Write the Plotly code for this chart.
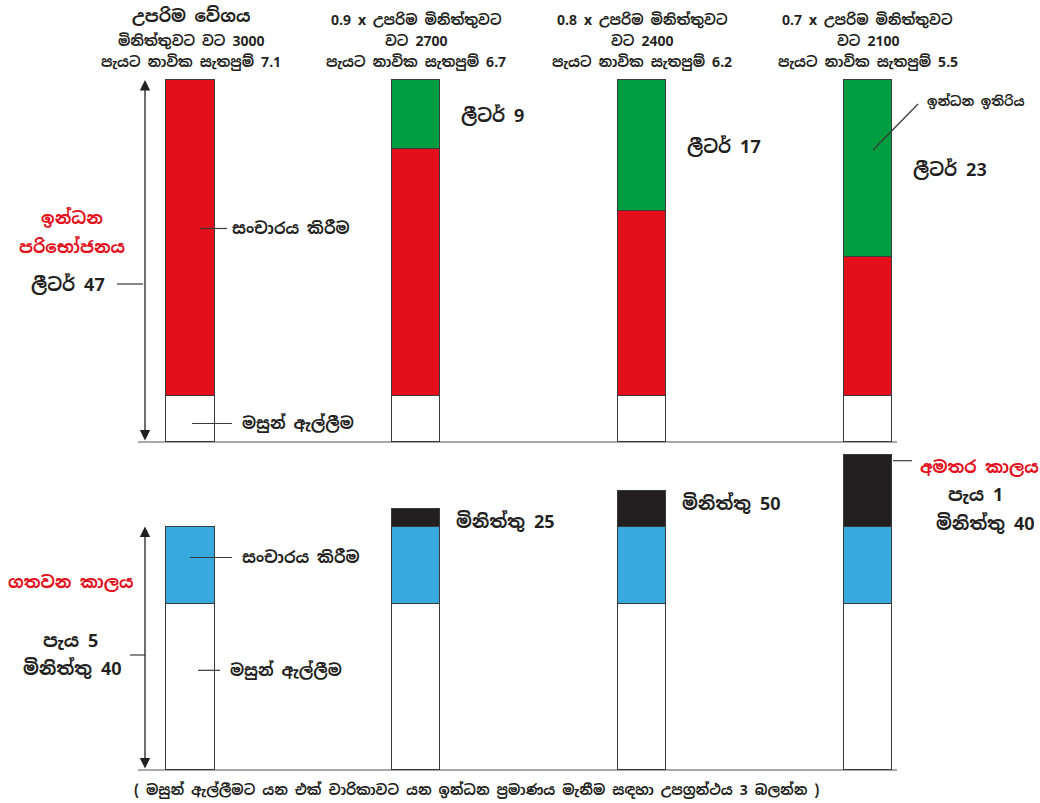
import plotly.graph_objects as go

W, H = 1040, 803

# ---- data -------------------------------------------------------------
speed_factor = ["", "0.9", "0.8", "0.7"]
engine_rpm = [3000, 2700, 2400, 2100]
speed_knots = [7.1, 6.7, 6.2, 5.5]

# fuel use (litres)
fuel_fishing = [6, 6, 6, 6]
fuel_travel = [41, 32, 24, 18]
fuel_remaining = [0, 9, 17, 23]

# time taken (minutes)
time_fishing = [232, 232, 232, 232]
time_travel = [108, 108, 108, 108]
time_extra = [0, 25, 50, 100]

x_pos = [0, 1, 2, 3]

# ---- styling ----------------------------------------------------------
RED = "#E30F1B"
GREEN = "#009E40"
BLUE = "#38A9DF"
BLACK = "#231F20"
EDGE = "#3A3A3A"
TEXT = "#231F20"
FONT = "Noto Sans Sinhala, Noto Sans, DejaVu Sans, sans-serif"
BAR_W = 0.213

# pixel layout of the two panels
X0_PX, X_STEP_PX = 190.5, 225.8          # centre of first bar, spacing
SPLIT_PX = 448                           # border between panels
TOP_BASE_PX, TOP_PX_PER_L = 442, 7.70
BOT_BASE_PX, BOT_PX_PER_MIN = 770, 0.716


def px_x(px):
    return px / W


def px_y(py):
    return 1 - py / H


def x_data(px):
    return (px - X0_PX) / X_STEP_PX


x_range = [x_data(0), x_data(W)]
top_range = [(TOP_BASE_PX - SPLIT_PX) / TOP_PX_PER_L, TOP_BASE_PX / TOP_PX_PER_L]
bot_range = [(BOT_BASE_PX - H) / BOT_PX_PER_MIN, (BOT_BASE_PX - SPLIT_PX) / BOT_PX_PER_MIN]

fig = go.Figure()


def add_bar(y, color, axes):
    xa, ya = axes
    fig.add_trace(go.Bar(
        x=x_pos, y=y, width=BAR_W, xaxis=xa, yaxis=ya,
        marker=dict(color=color, line=dict(color=EDGE, width=1.5)),
        showlegend=False, hoverinfo="skip",
    ))


add_bar(fuel_fishing, "white", ("x", "y"))
add_bar(fuel_travel, RED, ("x", "y"))
add_bar(fuel_remaining, GREEN, ("x", "y"))

add_bar(time_fishing, "white", ("x2", "y2"))
add_bar(time_travel, BLUE, ("x2", "y2"))
add_bar(time_extra, BLACK, ("x2", "y2"))

annotations = []
shapes = []


def text(x, y, s, size=15, color=TEXT, xanchor="center", yanchor="middle",
         yref="paper", yshift=0, bold=True):
    annotations.append(dict(
        x=x, y=y, xref="paper", yref=yref, text=f"<b>{s}</b>" if bold else s,
        showarrow=False, xanchor=xanchor, yanchor=yanchor, yshift=yshift,
        font=dict(family=FONT, size=size, color=color), align="center",
    ))


def leader(x0px, y0, x1px, y1, yref="paper", color=EDGE):
    shapes.append(dict(type="line", xref="paper", yref=yref,
                       x0=px_x(x0px), x1=px_x(x1px), y0=y0, y1=y1,
                       line=dict(color=color, width=1.2)))


# ---- headings above each bar ------------------------------------------
for i in range(4):
    cx = px_x(X0_PX + X_STEP_PX * i)
    if speed_factor[i]:
        text(cx, px_y(20), f"{speed_factor[i]} x උපරිම මිනිත්තුවට", size=14)
        text(cx, px_y(41), f"වට {engine_rpm[i]}", size=14)
    else:
        text(cx, px_y(16), "උපරිම වේගය", size=17)
        text(cx, px_y(41), f"මිනිත්තුවට වට {engine_rpm[i]}", size=14)
    text(cx, px_y(62), f"පැයට නාවික සැතපුම් {speed_knots[i]}", size=14)

# ---- top panel: fuel ---------------------------------------------------
total_fuel = fuel_fishing[0] + fuel_travel[0] + fuel_remaining[0]
arrow_x = x_data(145)
annotations.append(dict(
    x=arrow_x, y=total_fuel, ax=arrow_x, ay=0, xref="x", yref="y", axref="x", ayref="y",
    showarrow=True, arrowside="end+start", arrowhead=2, arrowsize=1.6, arrowwidth=1.3,
    arrowcolor=BLACK, text="",
))
shapes.append(dict(type="line", xref="paper", yref="y", x0=px_x(138), x1=px_x(897),
                   y0=0, y1=0, line=dict(color="#8C8C8C", width=1.5), layer="below"))

text(px_x(72), px_y(218), "ඉන්ධන", size=17, color=RED)
text(px_x(72), px_y(246), "පරිභෝජනය", size=17, color=RED)
text(px_x(68), px_y(284), f"ලීටර් {total_fuel}", size=18)
leader(117, px_y(284), 143, px_y(284))

travel_mid = fuel_fishing[0] + fuel_travel[0] * 0.53
leader(200, travel_mid, 227, travel_mid, yref="y")
text(px_x(230), travel_mid, "සංචාරය කිරීම", size=16, xanchor="left", yref="y")

fish_mid = fuel_fishing[0] * 0.4
leader(192, fish_mid, 232, fish_mid, yref="y")
text(px_x(240), fish_mid, "මසුන් ඇල්ලීම", size=16, xanchor="left", yref="y")

for i in range(1, 4):
    y_mid = fuel_fishing[i] + fuel_travel[i] + fuel_remaining[i] / 2
    lx = X0_PX + X_STEP_PX * i + 43
    text(px_x(lx), y_mid, f"ලීටර් {fuel_remaining[i]}", size=18, xanchor="left", yref="y")

leader(873, px_y(150), 918, px_y(104))
text(px_x(925), px_y(101), "ඉන්ධන ඉතිරිය", size=13, xanchor="left")

# ---- bottom panel: time ------------------------------------------------
total_time = time_fishing[0] + time_travel[0] + time_extra[0]
annotations.append(dict(
    x=arrow_x, y=total_time, ax=arrow_x, ay=0, xref="x2", yref="y2", axref="x2", ayref="y2",
    showarrow=True, arrowside="end+start", arrowhead=2, arrowsize=1.6, arrowwidth=1.3,
    arrowcolor=BLACK, text="",
))
shapes.append(dict(type="line", xref="paper", yref="y2", x0=px_x(138), x1=px_x(897),
                   y0=0, y1=0, line=dict(color="#8C8C8C", width=1.5), layer="below"))

h, m = divmod(total_time, 60)
text(px_x(70), px_y(582), "ගතවන කාලය", size=17, color=RED)
text(px_x(70), px_y(640), f"පැය {h}", size=18)
text(px_x(72), px_y(668), f"මිනිත්තු {m}", size=18)
leader(130, px_y(655), 145, px_y(655))

t_travel_mid = time_fishing[0] + time_travel[0] * 0.6
leader(190, t_travel_mid, 232, t_travel_mid, yref="y2")
text(px_x(240), t_travel_mid, "සංචාරය කිරීම", size=16, xanchor="left", yref="y2")

t_fish_mid = time_fishing[0] * 0.6
leader(198, t_fish_mid, 220, t_fish_mid, yref="y2")
text(px_x(228), t_fish_mid, "මසුන් ඇල්ලීම", size=16, xanchor="left", yref="y2")

for i in range(1, 4):
    top = time_fishing[i] + time_travel[i] + time_extra[i]
    lx = X0_PX + X_STEP_PX * i + 38
    eh, em = divmod(time_extra[i], 60)
    if eh == 0:
        text(px_x(lx), top, f"මිනිත්තු {em}", size=18, xanchor="left",
             yanchor="top", yref="y2", yshift=2)
    else:
        leader(893, top - 8, 912, top - 8, yref="y2")
        text(px_x(918), top, "අමතර කාලය", size=17, color=RED, xanchor="left",
             yanchor="top", yref="y2", yshift=1)
        text(px_x(975), top, f"පැය {eh}", size=18, yanchor="top", yref="y2", yshift=-26)
        text(px_x(985), top, f"මිනිත්තු {em}", size=18, yanchor="top", yref="y2", yshift=-54)

text(px_x(476), px_y(790),
     "( මසුන් ඇල්ලීමට යන එක් චාරිකාවට යන ඉන්ධන ප්‍රමාණය මැනීම සඳහා උපග්‍රන්ථය 3 බලන්න )",
     size=14)

hidden = dict(visible=False, showgrid=False, zeroline=False, fixedrange=True)
fig.update_layout(
    width=W, height=H,
    margin=dict(l=0, r=0, t=0, b=0),
    paper_bgcolor="white", plot_bgcolor="white",
    barmode="stack", bargap=0,
    xaxis=dict(hidden, domain=[0, 1], range=x_range, anchor="y"),
    yaxis=dict(hidden, domain=[1 - SPLIT_PX / H, 1], range=top_range, anchor="x"),
    xaxis2=dict(hidden, domain=[0, 1], range=x_range, anchor="y2"),
    yaxis2=dict(hidden, domain=[0, 1 - SPLIT_PX / H], range=bot_range, anchor="x2"),
    annotations=annotations,
    shapes=shapes,
    showlegend=False,
)

fig.write_html("out.html")
